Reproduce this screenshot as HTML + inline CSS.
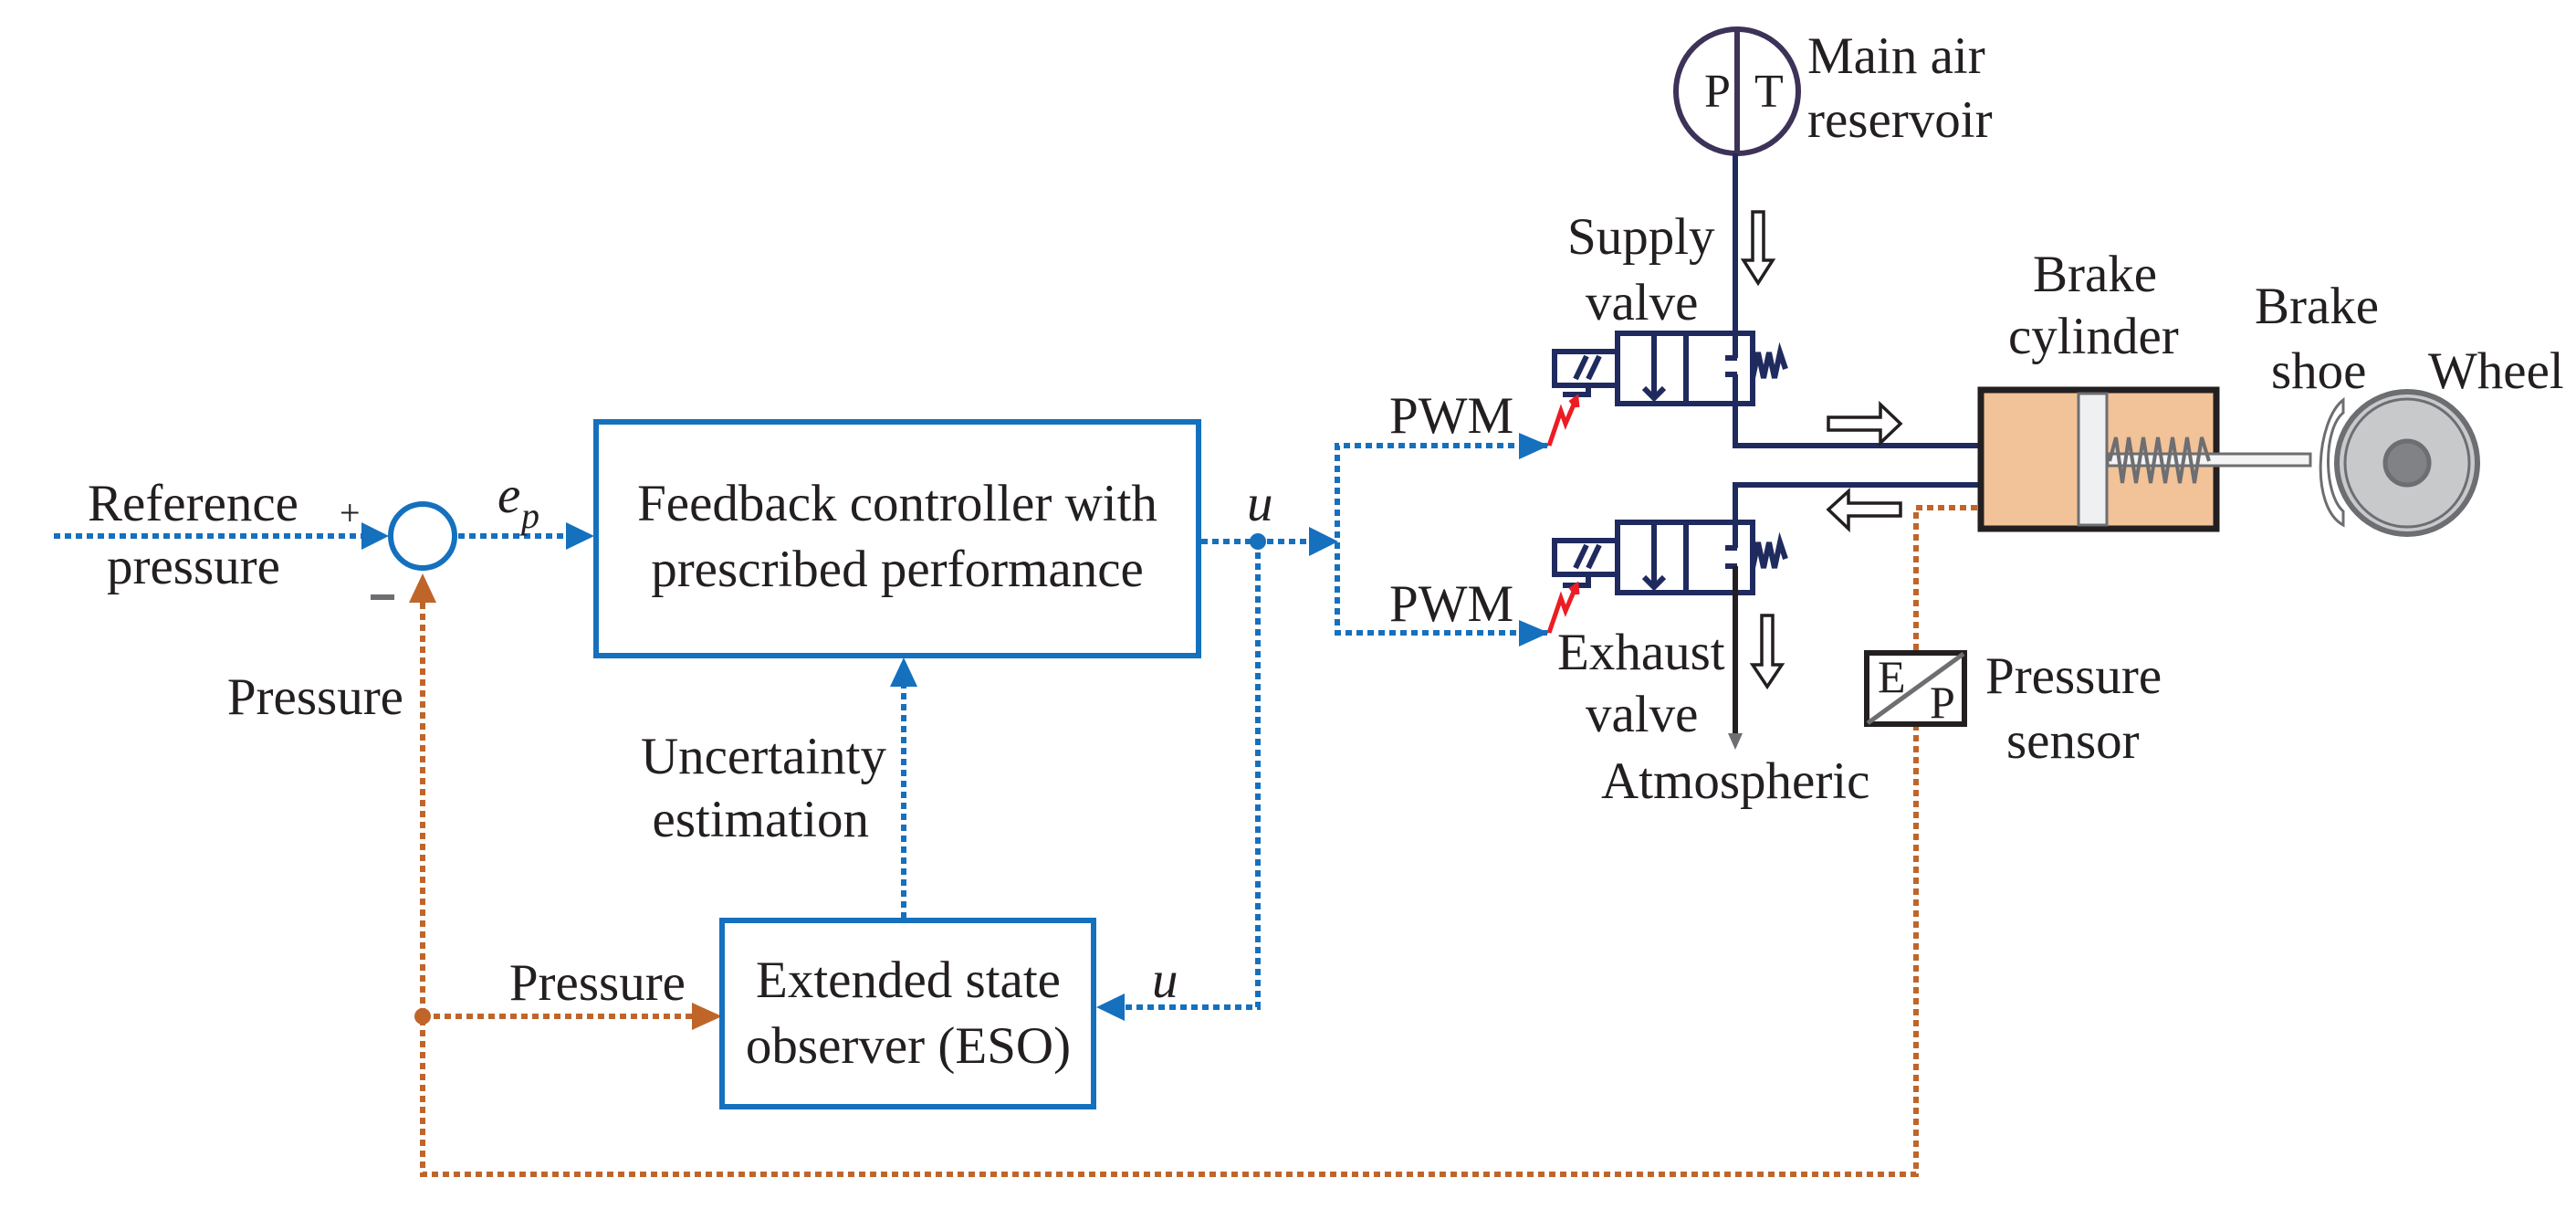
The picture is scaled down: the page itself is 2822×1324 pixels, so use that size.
<!DOCTYPE html>
<html><head><meta charset="utf-8"><style>
html,body{margin:0;padding:0;background:#fff}
svg{display:block}
text{font-family:"Liberation Serif",serif;fill:#231f20}
</style></head><body>
<svg width="2822" height="1324" viewBox="0 0 2822 1324" xmlns="http://www.w3.org/2000/svg">
<defs>
<marker id="ab" markerWidth="10" markerHeight="10" refX="9" refY="5" orient="auto" markerUnits="userSpaceOnUse" viewBox="0 0 10 10" style="overflow:visible">
</marker>
</defs>
<g font-size="57">
<!-- blue dotted lines -->
<g stroke="#1570be" stroke-width="6" fill="none" stroke-dasharray="7 5">
<line x1="59" y1="587" x2="396" y2="587"/>
<line x1="502" y1="587" x2="622" y2="587"/>
<line x1="1316" y1="593" x2="1436" y2="593"/>
<polyline points="1378,593 1378,1103 1232,1103"/>
<line x1="990" y1="1006" x2="990" y2="752"/>
<polyline points="1695,488 1465,488 1465,693 1695,693"/>
</g>
<g fill="#1570be">
<polygon points="426,587 396,572 396,602"/>
<polygon points="651,587 620,572 620,602"/>
<polygon points="1466,593 1434,577 1434,609"/>
<polygon points="1201,1103 1232,1088 1232,1118"/>
<polygon points="990,720 975,752 1005,752"/>
<polygon points="1697,488 1664,474 1664,503"/>
<polygon points="1697,693 1664,679 1664,708"/>
<circle cx="1378" cy="593" r="9"/>
</g>
<circle cx="463" cy="587" r="35" fill="none" stroke="#1570be" stroke-width="6"/>
<!-- orange lines -->
<g stroke="#c0652a" stroke-width="6" fill="none" stroke-dasharray="7 5">
<polyline points="463,660 463,1286 2099,1286 2099,796"/>
<polyline points="2099,712 2099,556 2167,556"/>
<line x1="463" y1="1113" x2="760" y2="1113"/>
</g>
<g fill="#c0652a">
<polygon points="463,628 448,660 478,660"/>
<polygon points="791,1113 758,1098 758,1128"/>
<circle cx="463" cy="1113" r="9"/>
</g>
<!-- boxes -->
<rect x="653" y="462" width="660" height="256" fill="none" stroke="#1570be" stroke-width="6"/>
<rect x="791" y="1008" width="407" height="204" fill="none" stroke="#1570be" stroke-width="6"/>
<!-- texts -->
<text x="96" y="570">Reference</text>
<text x="117" y="639">pressure</text>
<text x="372" y="575" font-size="40">+</text>
<rect x="406" y="651" width="26" height="6" fill="#6d6e71"/>
<text x="545" y="561" font-style="italic">e</text>
<text x="571" y="578" font-style="italic" font-size="40">p</text>
<text x="983" y="570" text-anchor="middle">Feedback controller with</text>
<text x="983" y="642" text-anchor="middle">prescribed performance</text>
<text x="1366" y="570" font-style="italic">u</text>
<text x="1262" y="1092" font-style="italic">u</text>
<text x="995" y="1092" text-anchor="middle">Extended state</text>
<text x="995" y="1164" text-anchor="middle">observer (ESO)</text>
<text x="971" y="847" text-anchor="end">Uncertainty</text>
<text x="952" y="916" text-anchor="end">estimation</text>
<text x="442" y="782" text-anchor="end">Pressure</text>
<text x="751" y="1095" text-anchor="end">Pressure</text>
<text x="1522" y="474">PWM</text>
<text x="1522" y="680">PWM</text>
<text x="1980" y="80">Main air</text>
<text x="1980" y="150">reservoir</text>
<text x="1717" y="278">Supply</text>
<text x="1737" y="350">valve</text>
<text x="2227" y="319">Brake</text>
<text x="2200" y="387">cylinder</text>
<text x="2470" y="354">Brake</text>
<text x="2488" y="425">shoe</text>
<text x="2660" y="425">Wheel</text>
<text x="1706" y="733">Exhaust</text>
<text x="1737" y="801">valve</text>
<text x="1754" y="874">Atmospheric</text>
<text x="2175" y="759">Pressure</text>
<text x="2198" y="830">sensor</text>
<!-- reservoir -->
<ellipse cx="1903" cy="100" rx="67" ry="68" fill="none" stroke="#3d3257" stroke-width="6"/>
<line x1="1903" y1="32" x2="1903" y2="168" stroke="#3d3257" stroke-width="6"/>
<text x="1867" y="117" font-size="52">P</text>
<text x="1922" y="117" font-size="52">T</text>
<!-- pipes -->
<g stroke="#1f2a5e" stroke-width="6" fill="none">
<polyline points="1901,168 1901,392"/>
<polyline points="1901,410 1901,488 2167,488"/>
<polyline points="2167,531 1901,531 1901,591"/>
<!-- supply valve -->
<rect x="1772" y="365" width="148" height="77"/>
<line x1="1847" y1="365" x2="1847" y2="442"/>
<line x1="1812" y1="365" x2="1812" y2="436"/>
<polyline points="1801,425 1812,436 1823,425"/>
<line x1="1890" y1="392" x2="1903" y2="392"/>
<line x1="1890" y1="410" x2="1903" y2="410"/>
<line x1="1901" y1="410" x2="1901" y2="442"/>
<rect x="1703" y="385" width="69" height="37"/>
<line x1="1726" y1="415" x2="1738" y2="390"/>
<line x1="1740" y1="415" x2="1752" y2="390"/>
<polyline points="1712,432 1740,432 1740,422"/>
<polyline points="1920,414 1926,386 1932,414 1938,386 1944,414 1950,386 1956,404"/>
<!-- exhaust valve -->
<rect x="1772" y="572" width="148" height="77"/>
<line x1="1847" y1="572" x2="1847" y2="649"/>
<line x1="1812" y1="572" x2="1812" y2="643"/>
<polyline points="1801,632 1812,643 1823,632"/>
<line x1="1890" y1="600" x2="1903" y2="600"/>
<line x1="1890" y1="620" x2="1903" y2="620"/>
<line x1="1901" y1="572" x2="1901" y2="600"/>
<rect x="1703" y="592" width="69" height="37"/>
<line x1="1726" y1="622" x2="1738" y2="597"/>
<line x1="1740" y1="622" x2="1752" y2="597"/>
<polyline points="1712,641 1740,641 1740,629"/>
<polyline points="1920,622 1926,594 1932,622 1938,594 1944,622 1950,594 1956,612"/>
</g>
<line x1="1901" y1="620" x2="1901" y2="805" stroke="#231f20" stroke-width="6"/>
<polygon points="1893,803 1909,803 1901,821" fill="#6d6e71"/>
<!-- red zigzags -->
<g stroke="#ed1c24" stroke-width="5" fill="none">
<polyline points="1697,488 1710,450 1715,464 1727,436"/>
<polyline points="1720,441 1727,436 1728,446"/>
<polyline points="1697,693 1710,655 1715,669 1727,641"/>
<polyline points="1720,646 1727,641 1728,651"/>
</g>
<!-- hollow arrows -->
<g fill="#fff" stroke="#231f20" stroke-width="3.5">
<polygon points="1920,232 1932,232 1932,285 1942,285 1926,310 1910,285 1920,285"/>
<polygon points="1930,674 1942,674 1942,728 1952,728 1936,752 1920,728 1930,728"/>
<polygon points="2003,457 2060,457 2060,443 2082,464 2060,485 2060,471 2003,471"/>
<polygon points="2082,551 2025,551 2025,538 2003,558 2025,579 2025,565 2082,565"/>
</g>
<!-- cylinder -->
<rect x="2170" y="427" width="258" height="152" fill="#f2c398" stroke="#231f20" stroke-width="7"/>
<rect x="2309" y="497" width="222" height="13" fill="#f4f4f4" stroke="#6d6e71" stroke-width="3"/>
<polyline points="2311,505 2318,479 2325,529 2332,479 2340,529 2348,479 2356,529 2364,479 2372,529 2380,479 2388,529 2396,479 2404,529 2412,479 2420,505" fill="none" stroke="#6d6e71" stroke-width="4"/>
<rect x="2277" y="431" width="31" height="144" fill="#eef0f1" stroke="#6d6e71" stroke-width="3"/>
<!-- shoe -->
<path d="M2567,438 C2538,460 2530,555 2567,575 L2567,560 C2545,540 2545,470 2567,452 Z" fill="#fff" stroke="#6d6e71" stroke-width="3"/>
<!-- wheel -->
<ellipse cx="2637" cy="507" rx="77" ry="78" fill="#c8c9cb" stroke="#6d6e71" stroke-width="6"/>
<ellipse cx="2637" cy="507" rx="68" ry="70" fill="none" stroke="#6d6e71" stroke-width="3"/>
<circle cx="2637" cy="507" r="24" fill="#808285" stroke="#6d6e71" stroke-width="5"/>
<!-- sensor -->
<rect x="2045" y="715" width="107" height="78" fill="#fff" stroke="#231f20" stroke-width="6"/>
<line x1="2046" y1="792" x2="2151" y2="716" stroke="#6d6e71" stroke-width="5"/>
<text x="2057" y="758" font-size="50">E</text>
<text x="2114" y="786" font-size="50">P</text>
</g>
</svg>
</body></html>
